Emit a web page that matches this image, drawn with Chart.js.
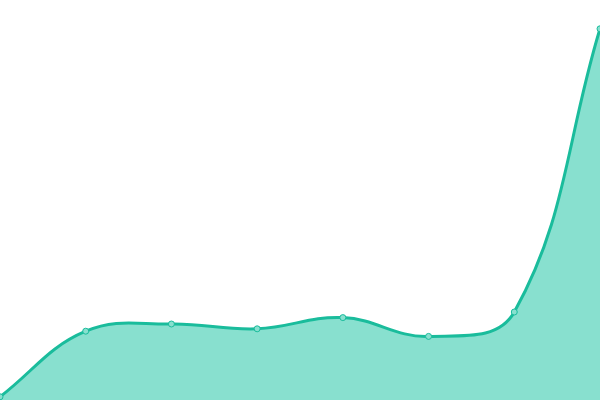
<!DOCTYPE html>
<html>
<head>
<meta charset="utf-8">
<script src="https://cdn.jsdelivr.net/npm/chart.js@4"></script>
<style>
  html, body { margin: 0; padding: 0; background: #fff; }
  #wrap { width: 600px; height: 400px; position: relative; }
</style>
</head>
<body>
<div id="wrap"><canvas id="chart"></canvas></div>
<script>
const labels = ['1', '2', '3', '4', '5', '6', '7', '8'];
const values = [0.8, 17.2, 19, 17.8, 20.6, 15.9, 22, 92.8];

const ctx = document.getElementById('chart').getContext('2d');
new Chart(ctx, {
  type: 'line',
  data: {
    labels: labels,
    datasets: [{
      data: values,
      borderColor: '#1ABC9C',
      backgroundColor: '#88E0CF',
      borderWidth: 3,
      fill: true,
      tension: 0.4,
      pointRadius: 3,
      pointBackgroundColor: '#88E0CF',
      pointBorderColor: '#1ABC9C',
      pointBorderWidth: 1
    }]
  },
  options: {
    responsive: true,
    maintainAspectRatio: false,
    animation: false,
    layout: { padding: 0, autoPadding: false },
    plugins: {
      legend: { display: false },
      tooltip: { enabled: false }
    },
    scales: {
      x: { display: false },
      y: { display: false, min: 0, max: 100 }
    }
  }
});
</script>
</body>
</html>
